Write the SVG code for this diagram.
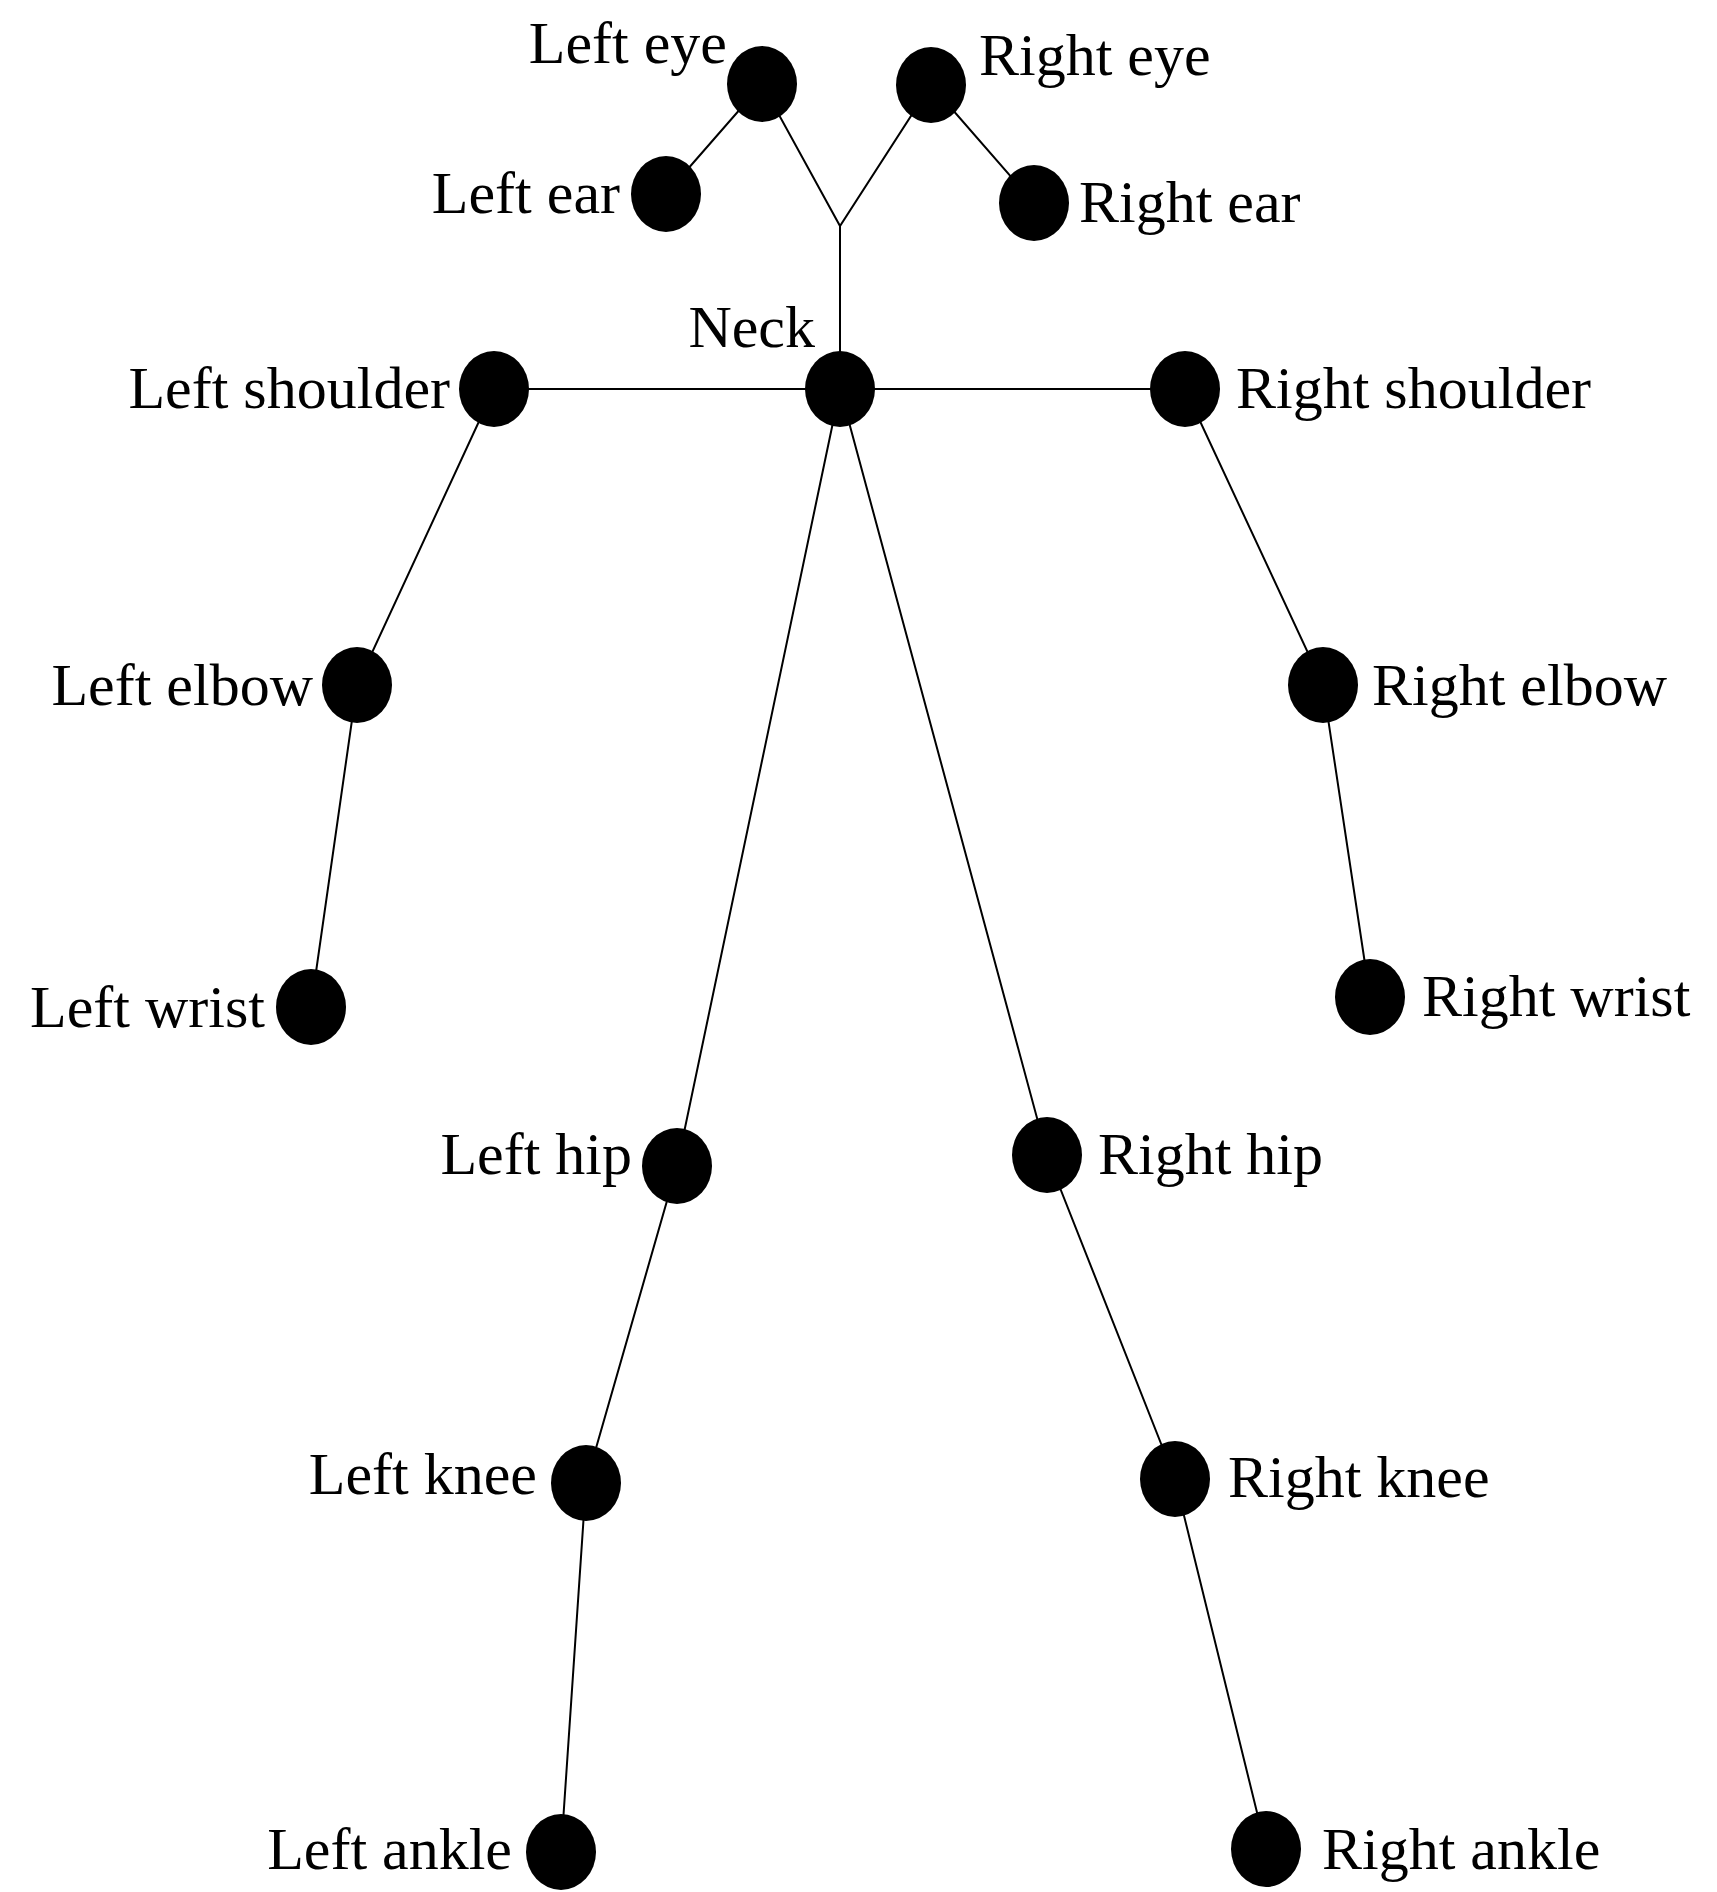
<svg xmlns="http://www.w3.org/2000/svg" width="1717" height="1892" viewBox="0 0 1717 1892">
<style>
.n{fill:#000}
.e{stroke:#000;stroke-width:2;fill:none}
text{font-family:"Liberation Serif",serif;font-size:60px;fill:#000}
.r{text-anchor:end}
</style>
<rect width="1717" height="1892" fill="#fff"/>
<g id="connectors" class="e">
<path d="M666,194 L762,84 L840,226 L931,85 L1034,203"/>
<path d="M840,226 L840,389"/>
<path d="M494,389 L1185,389"/>
<path d="M494,389 L357,685 L311,1007"/>
<path d="M1185,389 L1323,685 L1370,997"/>
<path d="M840,389 L677,1166 L586,1483 L561,1852"/>
<path d="M840,389 L1047,1155 L1175,1479 L1266,1849"/>
</g>
<g id="left-eye"><ellipse class="n" cx="762" cy="84" rx="35" ry="38"/><text class="r" x="727" y="63">Left eye</text></g>
<g id="right-eye"><ellipse class="n" cx="931" cy="85" rx="35" ry="38"/><text x="979" y="75">Right eye</text></g>
<g id="left-ear"><ellipse class="n" cx="666" cy="194" rx="35" ry="38"/><text class="r" x="620" y="213">Left ear</text></g>
<g id="right-ear"><ellipse class="n" cx="1034" cy="203" rx="35" ry="38"/><text x="1079" y="222">Right ear</text></g>
<g id="neck"><ellipse class="n" cx="840" cy="389" rx="35" ry="38"/><text class="r" x="815" y="347">Neck</text></g>
<g id="left-shoulder"><ellipse class="n" cx="494" cy="389" rx="35" ry="38"/><text class="r" x="450" y="408">Left shoulder</text></g>
<g id="right-shoulder"><ellipse class="n" cx="1185" cy="389" rx="35" ry="38"/><text x="1236" y="408">Right shoulder</text></g>
<g id="left-elbow"><ellipse class="n" cx="357" cy="685" rx="35" ry="38"/><text class="r" x="313" y="705">Left elbow</text></g>
<g id="right-elbow"><ellipse class="n" cx="1323" cy="685" rx="35" ry="38"/><text x="1372" y="705">Right elbow</text></g>
<g id="left-wrist"><ellipse class="n" cx="311" cy="1007" rx="35" ry="38"/><text class="r" x="265" y="1027">Left wrist</text></g>
<g id="right-wrist"><ellipse class="n" cx="1370" cy="997" rx="35" ry="38"/><text x="1422" y="1016">Right wrist</text></g>
<g id="left-hip"><ellipse class="n" cx="677" cy="1166" rx="35" ry="38"/><text class="r" x="632" y="1174">Left hip</text></g>
<g id="right-hip"><ellipse class="n" cx="1047" cy="1155" rx="35" ry="38"/><text x="1098" y="1174">Right hip</text></g>
<g id="left-knee"><ellipse class="n" cx="586" cy="1483" rx="35" ry="38"/><text class="r" x="537" y="1494">Left knee</text></g>
<g id="right-knee"><ellipse class="n" cx="1175" cy="1479" rx="35" ry="38"/><text x="1228" y="1497">Right knee</text></g>
<g id="left-ankle"><ellipse class="n" cx="561" cy="1852" rx="35" ry="38"/><text class="r" x="512" y="1869">Left ankle</text></g>
<g id="right-ankle"><ellipse class="n" cx="1266" cy="1849" rx="35" ry="38"/><text x="1322" y="1869">Right ankle</text></g>
</svg>
